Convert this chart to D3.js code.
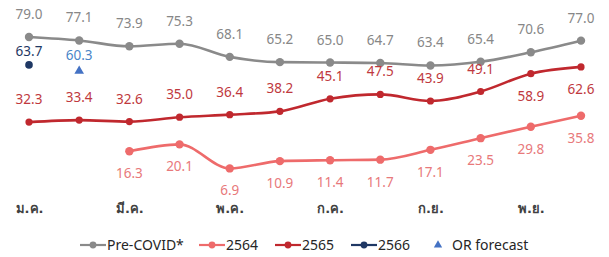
<!DOCTYPE html>
<html><head><meta charset="utf-8">
<script src="https://cdn.jsdelivr.net/npm/d3@7"></script>
<style>body{margin:0;background:#fff;} svg{display:block;font-family:"Noto Sans","DejaVu Sans",sans-serif;}</style>
</head><body><svg id="c" width="609" height="257"></svg>
<script>
const months = ["ม.ค.","ก.พ.","มี.ค.","เม.ย.","พ.ค.","มิ.ย.","ก.ค.","ส.ค.","ก.ย.","ต.ค.","พ.ย.","ธ.ค."];
const tickLabels = ["ม.ค.","มี.ค.","พ.ค.","ก.ค.","ก.ย.","พ.ย."];
const preCovid = [79.0,77.1,73.9,75.3,68.1,65.2,65.0,64.7,63.4,65.4,70.6,77.0];
const y2564 = [null,null,16.3,20.1,6.9,10.9,11.4,11.7,17.1,23.5,29.8,35.8];
const y2565 = [32.3,33.4,32.6,35.0,36.4,38.2,45.1,47.5,43.9,49.1,58.9,62.6];
const y2566 = [63.7];
const orForecast = [null,60.3];
const labelsBelow2565 = ["พ.ย.","ธ.ค."];

const svg = d3.select("#c");
const x = d3.scalePoint().domain(months).range([29,581]);
const y = d3.scaleLinear().domain([0,79]).range([181,37]);

const C = {pre:"#8a8a8a", s64:"#ee6b6b", s65:"#c0282e", s66:"#1f3864", orf:"#4472c4",
  preT:"#878787", s64T:"#e8797b", s65T:"#c0393e", s66T:"#1f3864", orfT:"#4a86c8"};

const line = d3.line().defined(d=>d.v!=null).x(d=>x(d.m)).y(d=>y(d.v)).curve(d3.curveMonotoneX);
function series(vals, color, r){
  const data = vals.map((v,i)=>({m:months[i],v}));
  svg.append("path").datum(data).attr("d",line).attr("fill","none").attr("stroke",color).attr("stroke-width",2.6);
  svg.selectAll(null).data(data.filter(d=>d.v!=null)).enter().append("circle")
    .attr("cx",d=>x(d.m)).attr("cy",d=>y(d.v)).attr("r",r).attr("fill",color);
  return data.filter(d=>d.v!=null);
}
const dPre = series(preCovid,C.pre,4.2);
const d64 = series(y2564,C.s64,4.2);
const d65 = series(y2565,C.s65,3.6);

function labels(data, color, dyFn){
  svg.selectAll(null).data(data).enter().append("text")
    .attr("x",d=>x(d.m)).attr("y",d=>y(d.v)+dyFn(d)).attr("text-anchor","middle")
    .attr("font-size",13.5).attr("fill",color).text(d=>d.v.toFixed(1));
}
labels(dPre,C.preT,()=>-18);
labels(d64,C.s64T,()=>27);
labels(d65,C.s65T,d=>labelsBelow2565.includes(d.m)?27:-18);

// 2566
const d66 = y2566.map((v,i)=>({m:months[i],v}));
svg.selectAll(null).data(d66).enter().append("circle").attr("cx",d=>x(d.m)).attr("cy",d=>y(d.v)).attr("r",3.8).attr("fill",C.s66);
labels(d66,C.s66T,()=>-9);
// OR forecast
const dor = orForecast.map((v,i)=>({m:months[i],v})).filter(d=>d.v!=null);
const tri = d3.symbol().type(d3.symbolTriangle).size(40);
svg.selectAll(null).data(dor).enter().append("path").attr("d",tri)
  .attr("transform",d=>`translate(${x(d.m)},${y(d.v)})`).attr("fill",C.orf);
labels(dor,C.orfT,()=>-11);

// x axis labels
const ax = svg.append("g").attr("transform","translate(0,213)")
  .call(d3.axisBottom(x).tickValues(tickLabels).tickSize(0).tickPadding(0));
ax.select(".domain").remove();
ax.selectAll("text").attr("font-size",13).attr("font-weight","bold").attr("fill","#404040").attr("dy",0)
  .attr("font-family","Tahoma,'DejaVu Sans',sans-serif");

// legend
const legend = [
  {name:"Pre-COVID*", color:C.pre, type:"line", x:80},
  {name:"2564", color:C.s64, type:"line", x:199},
  {name:"2565", color:C.s65, type:"line", x:275},
  {name:"2566", color:C.s66, type:"line", x:351},
  {name:"OR forecast", color:C.orf, type:"tri", x:432}
];
const lg = svg.append("g").attr("transform","translate(0,245)");
legend.forEach(it=>{
  if(it.type==="line"){
    lg.append("line").attr("x1",it.x).attr("x2",it.x+26).attr("y1",0).attr("y2",0).attr("stroke",it.color).attr("stroke-width",2.2);
    lg.append("circle").attr("cx",it.x+13).attr("cy",0).attr("r",3.4).attr("fill",it.color);
    lg.append("text").attr("x",it.x+27).attr("y",5).attr("font-size",14).attr("fill","#262626").text(it.name);
  } else {
    lg.append("path").attr("d",d3.symbol().type(d3.symbolTriangle).size(30)).attr("transform",`translate(${it.x+6},0)`).attr("fill",it.color);
    lg.append("text").attr("x",it.x+20).attr("y",5).attr("font-size",14).attr("fill","#262626").text(it.name);
  }
});
</script></body></html>
